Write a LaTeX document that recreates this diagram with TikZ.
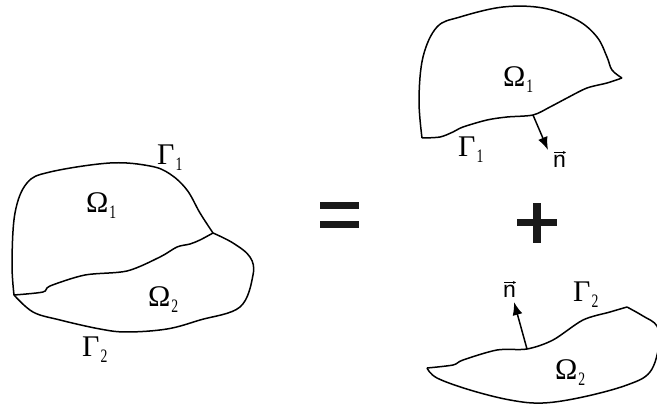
\documentclass[tikz,border=0pt]{standalone}
\usepackage{fontspec}
\setmainfont{Liberation Serif}
\newfontfamily\sansn{Liberation Sans}
\usetikzlibrary{arrows.meta}
\tikzset{
  bound/.style={line width=1.5pt, line join=round},
  lbl/.style={inner sep=0pt, anchor=base west, font=\fontsize{30}{32}\selectfont},
  nlbl/.style={inner sep=0pt, anchor=base west, font=\sansn\fontsize{23}{25}\selectfont},
  normal/.style={line width=1.5pt, -{Latex[length=13pt,width=10pt]}},
  vecbar/.style={line width=0.6pt, -{Stealth[length=3pt,width=3pt]}},
  opbar/.style={fill=black!90, draw=none}
}
\newcommand{\sub}[1]{\hspace{1pt}\raisebox{-6pt}{\scalebox{0.72}[1]{\fontsize{19}{20}\selectfont #1}}}
\begin{document}
\begin{tikzpicture}[x=1pt,y=-1pt]
\useasboundingbox (0,0) rectangle (657,406);
% ---------- left domain ----------
\draw[bound] plot[smooth, tension=0.6] coordinates {(14,295) (12,263) (15,213) (27,183) (50,172) (110,163) (150,166) (170,174) (187,190) (200,213) (213,233)};
\draw[bound] plot[smooth, tension=0.6] coordinates {(213,233) (233,243) (250,257) (253,275) (240,307) (200,320) (167,329) (127,332) (100,329) (60,320) (33,312) (14,295)};
\draw[bound] plot[smooth, tension=0.5] coordinates {(14,295) (43,292) (50,286) (85,275) (127,271) (160,257) (177,247) (190,244) (200,240) (213,233)};
\node[lbl] (g1) at (157,165) {Γ\sub{1}};
\node[lbl] (o1) at (86,213) {Ω\sub{1}};
\node[lbl] (o2) at (148,307) {Ω\sub{2}};
\node[lbl] (g2) at (82,357) {Γ\sub{2}};
% ---------- operators ----------
\fill[opbar] (320,202) rectangle (359,209);
\fill[opbar] (320,221) rectangle (359,228);
\fill[opbar] (517,219) rectangle (557,226);
\fill[opbar] (533,203) rectangle (541,243);
% ---------- top right domain ----------
\draw[bound] plot[smooth, tension=0.6] coordinates {(422,138) (419,100) (423,57) (437,27) (460,17) (503,7) (543,8) (577,20) (597,37) (607,57) (612,70) (622,78)};
\draw[bound] plot[smooth, tension=0.5] coordinates {(622,78) (607,83) (587,88) (567,98) (550,107) (533,115) (507,117) (487,120) (463,127) (453,132) (440,137) (422,138)};
\coordinate (p1) at (533,115);
\coordinate (q1) at (548,150);
\draw[normal] (p1) -- (q1);
\node[lbl] (o1b) at (503,87) {Ω\sub{1}};
\node[lbl] (g1b) at (458,157) {Γ\sub{1}};
\node[nlbl] (n1) at (553,168) {n};
\draw[vecbar] ([shift={(1pt,15.5pt)}]n1.base west) -- ([shift={(13pt,15.5pt)}]n1.base west);
% ---------- bottom right domain ----------
\draw[bound] plot[smooth, tension=0.5] coordinates {(427,368) (453,365) (463,360) (497,350) (527,349) (553,340) (583,320) (610,312) (627,307)};
\draw[bound] plot[smooth, tension=0.6] coordinates {(627,307) (643,316) (657,326) (659,345) (650,372) (627,385) (583,397) (543,403) (510,400) (470,390) (437,378) (427,368)};
\coordinate (p2) at (527,349);
\coordinate (q2) at (514,302);
\draw[normal] (p2) -- (q2);
\node[lbl] (o2b) at (555,380) {Ω\sub{2}};
\node[lbl] (g2b) at (573,302) {Γ\sub{2}};
\node[nlbl] (n2) at (503,298) {n};
\draw[vecbar] ([shift={(1pt,15.5pt)}]n2.base west) -- ([shift={(13pt,15.5pt)}]n2.base west);
\end{tikzpicture}
\end{document}
